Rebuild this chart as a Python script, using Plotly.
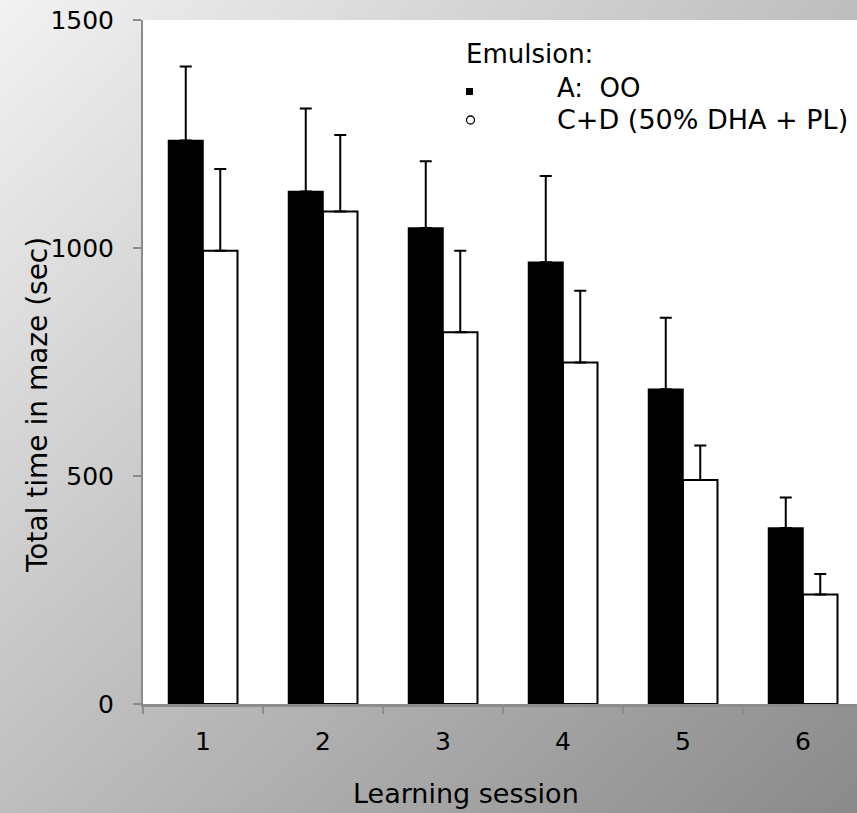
import base64
import plotly.graph_objects as go

sessions = ["1", "2", "3", "4", "5", "6"]
oo_mean = [1236, 1124, 1044, 969, 690, 386]
oo_err = [162, 182, 146, 189, 157, 67]
cd_mean = [994, 1080, 815, 749, 491, 240]
cd_err = [179, 168, 179, 157, 76, 45]

legend_title = "Emulsion:"
name_oo = "A:  OO"
name_cd = "C+D (50% DHA + PL)"

W, H = 857, 813
L, R, T, B = 143, 0, 20, 109
PW, PH = W - L - R, H - T - B

def px(x):
    return (x - L) / PW

def py(y):
    return (H - B - y) / PH

FONT = "DejaVu Sans"

fig = go.Figure()
fig.add_trace(go.Bar(
    x=sessions, y=oo_mean, name=name_oo,
    marker=dict(color="black", line=dict(color="black", width=1.5)),
    error_y=dict(type="data", symmetric=False, array=oo_err,
                 arrayminus=[0] * len(oo_err), color="black", thickness=2, width=6),
))
fig.add_trace(go.Bar(
    x=sessions, y=cd_mean, name=name_cd,
    marker=dict(color="white", line=dict(color="black", width=2)),
    error_y=dict(type="data", symmetric=False, array=cd_err,
                 arrayminus=[0] * len(cd_err), color="black", thickness=2, width=6),
))

svg = ('<svg xmlns="http://www.w3.org/2000/svg" width="857" height="813">'
       '<defs><linearGradient id="g" x1="0" y1="0" x2="1" y2="1">'
       '<stop offset="0" stop-color="#f2f2f2"/><stop offset="1" stop-color="#8a8a8a"/>'
       '</linearGradient></defs><rect width="857" height="813" fill="url(#g)"/></svg>')
src = "data:image/svg+xml;base64," + base64.b64encode(svg.encode()).decode()

fig.update_layout(
    width=W, height=H,
    margin=dict(l=L, r=R, t=T, b=B, pad=0),
    paper_bgcolor="#c4c4c4",
    plot_bgcolor="white",
    barmode="group",
    bargap=0.425,
    bargroupgap=0,
    showlegend=False,
    font=dict(family=FONT, color="black"),
    images=[dict(source=src, xref="paper", yref="paper",
                 x=px(0), y=py(0), sizex=W / PW, sizey=H / PH,
                 xanchor="left", yanchor="top", sizing="stretch", layer="below")],
    shapes=[
        dict(type="rect", xref="paper", yref="paper", x0=0, x1=1, y0=0, y1=1,
             fillcolor="white", line=dict(width=0), layer="below"),
        dict(type="rect", xref="paper", yref="paper", x0=px(466), x1=px(473),
             y0=py(95), y1=py(88), fillcolor="black", line=dict(width=0)),
        dict(type="circle", xref="paper", yref="paper", x0=px(466.5), x1=px(474.5),
             y0=py(124), y1=py(116), fillcolor="rgba(0,0,0,0)",
             line=dict(color="black", width=1.3)),
    ],
    xaxis=dict(
        type="category", range=[-0.5, 5.45], tickson="boundaries",
        showline=True, linecolor="#8c8c8c", linewidth=2.5,
        ticks="outside", ticklen=7, tickwidth=2, tickcolor="#8c8c8c",
        tickfont=dict(size=25, family=FONT, color="black"),
        ticklabelstandoff=13, showgrid=False, zeroline=False,
    ),
    yaxis=dict(
        range=[0, 1500], tickvals=[0, 500, 1000, 1500],
        showline=True, linecolor="#8c8c8c", linewidth=2,
        ticks="outside", ticklen=8, tickwidth=2, tickcolor="#8c8c8c",
        tickfont=dict(size=25, family=FONT, color="black"),
        ticklabelstandoff=14, showgrid=False, zeroline=False,
    ),
    annotations=[
        dict(text="Total time in maze (sec)", xref="paper", yref="paper",
             x=px(37), y=py(405), textangle=-90, showarrow=False,
             xanchor="center", yanchor="middle", font=dict(size=28, family=FONT)),
        dict(text="Learning session", xref="paper", yref="paper",
             x=px(466), y=py(793), showarrow=False,
             xanchor="center", yanchor="middle", font=dict(size=27, family=FONT)),
        dict(text=legend_title, xref="paper", yref="paper",
             x=px(464), y=py(54), showarrow=False,
             xanchor="left", yanchor="middle", font=dict(size=26, family=FONT)),
        dict(text=name_oo, xref="paper", yref="paper",
             x=px(555), y=py(88), showarrow=False,
             xanchor="left", yanchor="middle", font=dict(size=26, family=FONT)),
        dict(text=name_cd, xref="paper", yref="paper",
             x=px(555), y=py(119), showarrow=False,
             xanchor="left", yanchor="middle", font=dict(size=27, family=FONT)),
    ],
)

fig.write_html("out.html", config={"displayModeBar": False},
               post_script="document.body.style.margin='0';document.body.style.padding='0';")
